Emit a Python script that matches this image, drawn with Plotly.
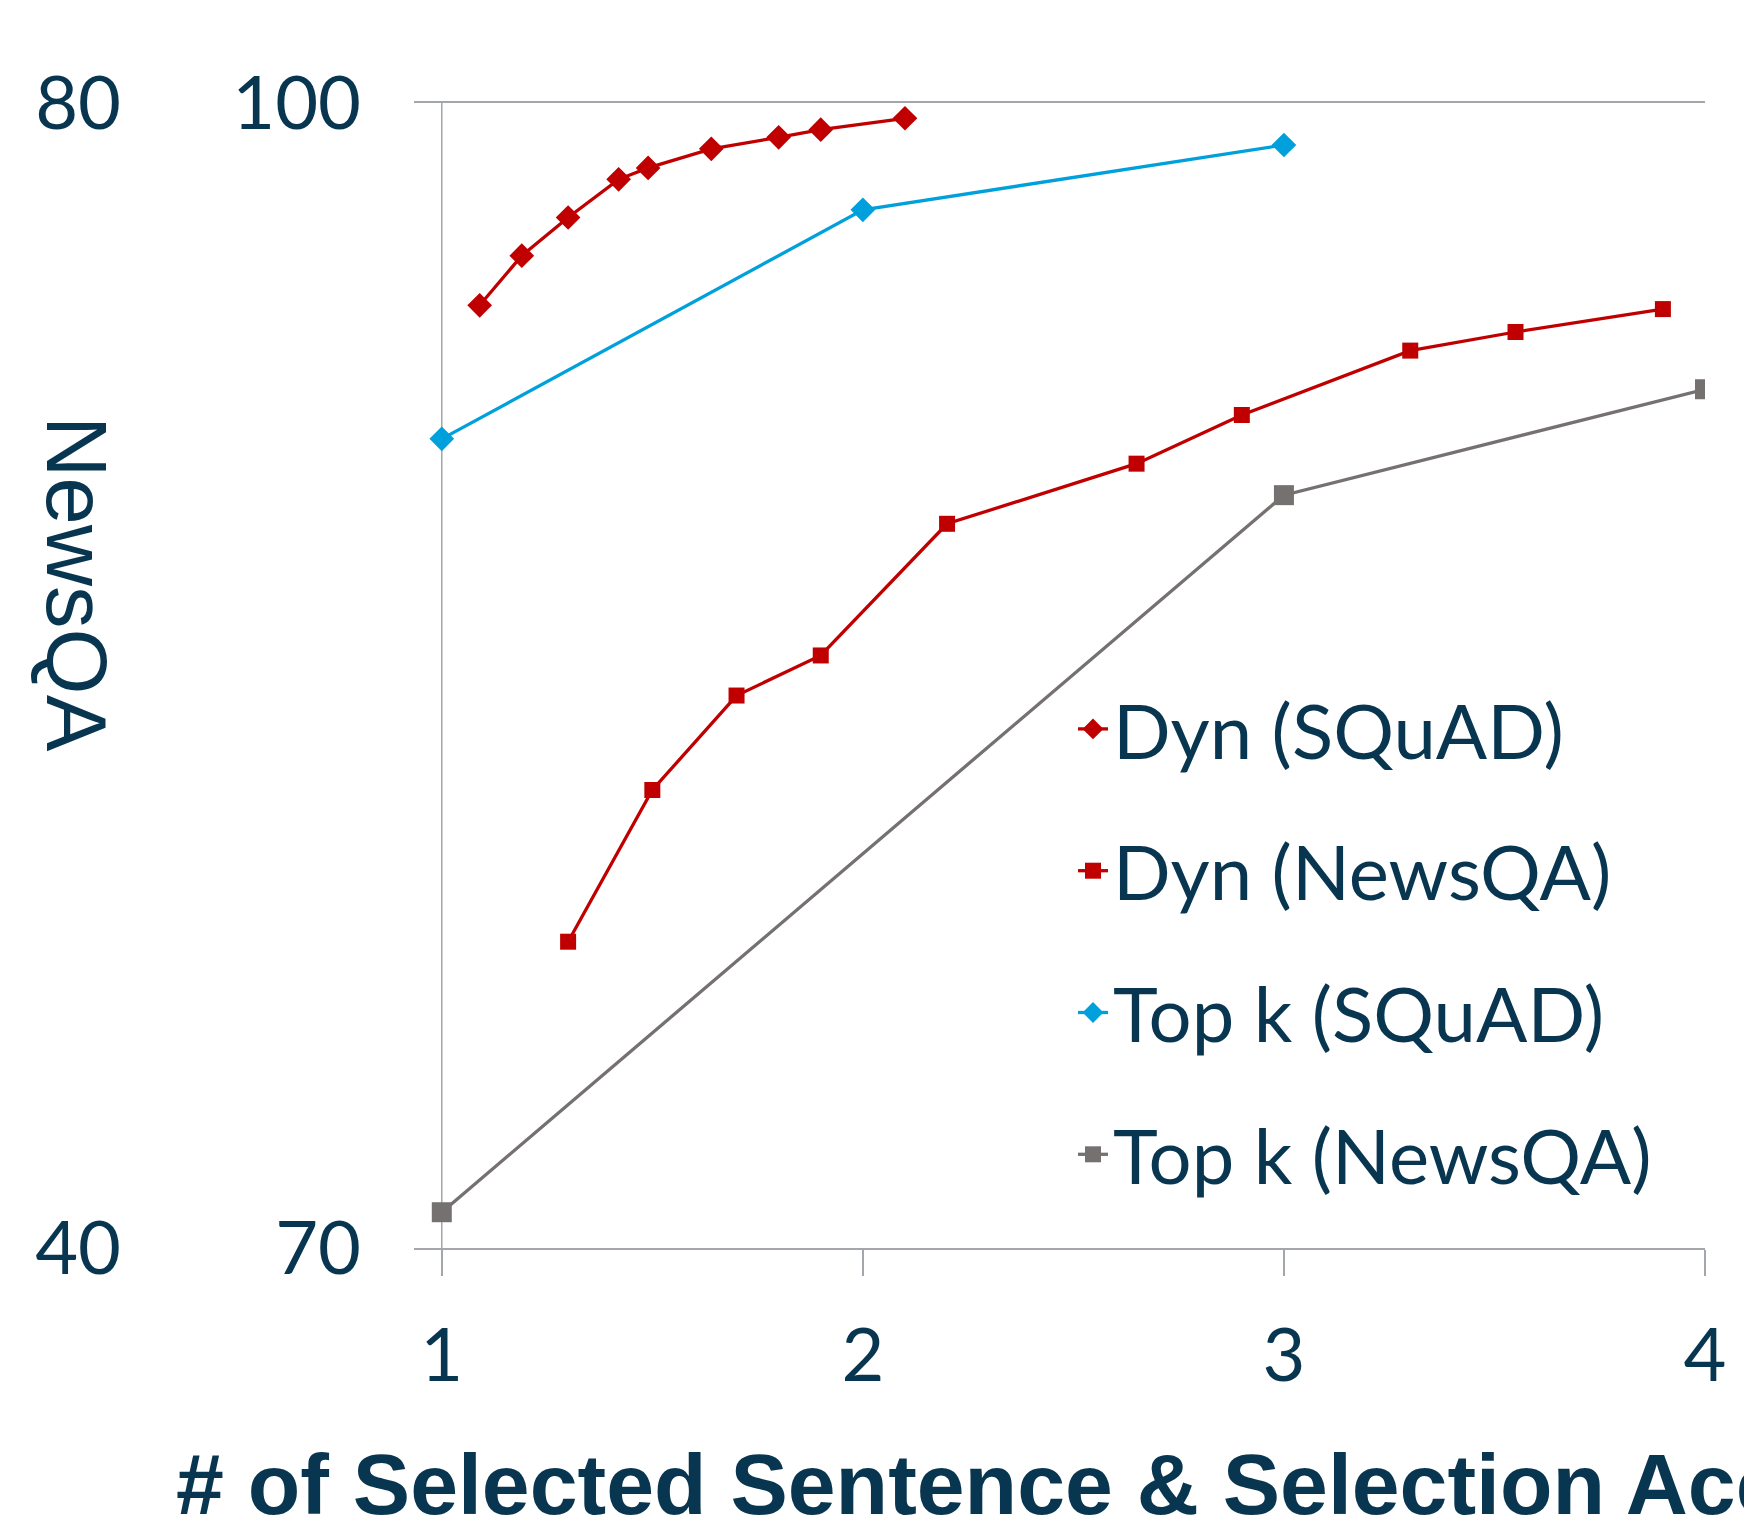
import plotly.graph_objects as go

# ---- data ----
dyn_squad_x = [1.09, 1.19, 1.30, 1.42, 1.49, 1.64, 1.80, 1.90, 2.10]
dyn_squad_y = [94.7, 96.0, 97.0, 98.0, 98.3, 98.8, 99.1, 99.3, 99.6]

topk_squad_x = [1, 2, 3]
topk_squad_y = [91.2, 97.2, 98.9]

dyn_news_x = [1.30, 1.50, 1.70, 1.90, 2.20, 2.65, 2.90, 3.30, 3.55, 3.90]
dyn_news_y = [50.7, 56.0, 59.3, 60.7, 65.3, 67.4, 69.1, 71.35, 72.0, 72.8]

topk_news_x = [1, 3, 4]
topk_news_y = [41.25, 66.3, 70.0]

x_ticks = [1, 2, 3, 4]
y1_ticks = [70, 100]
y2_ticks = [40, 80]

NAVY = "#08354F"
RED = "#C00000"
BLUE = "#00A0DC"
GRAY = "#767171"
AXIS = "#A3A7AB"

W, H = 1752, 1520
ML, MR, MT, MB = 20, 55, 95, 280
PW = W - ML - MR
PH = H - MT - MB

fig = go.Figure()

fig.add_trace(go.Scatter(x=dyn_squad_x, y=dyn_squad_y, name="Dyn (SQuAD)",
                         mode="lines+markers", legendgroup="a",
                         line=dict(color=RED, width=3.3),
                         marker=dict(symbol="diamond", size=19, color=RED)))
fig.add_trace(go.Scatter(x=dyn_news_x, y=dyn_news_y, name="Dyn (NewsQA)", yaxis="y2",
                         mode="lines+markers", legendgroup="b",
                         line=dict(color=RED, width=3.3),
                         marker=dict(symbol="square", size=16, color=RED)))
fig.add_trace(go.Scatter(x=topk_squad_x, y=topk_squad_y, name="Top k (SQuAD)",
                         mode="lines+markers", legendgroup="c",
                         line=dict(color=BLUE, width=3.3),
                         marker=dict(symbol="diamond", size=19, color=BLUE)))
fig.add_trace(go.Scatter(x=topk_news_x, y=topk_news_y, name="Top k (NewsQA)", yaxis="y2",
                         mode="lines+markers", legendgroup="d",
                         line=dict(color=GRAY, width=3.3),
                         marker=dict(symbol="square", size=20, color=GRAY)))

x0 = (406 - ML) / PW

fig.update_layout(
    width=W, height=H,
    margin=dict(l=ML, r=MR, t=MT, b=MB),
    paper_bgcolor="white", plot_bgcolor="white",
    font=dict(family="Lato", color=NAVY, size=74),
    showlegend=True,
    legend=dict(x=(1065 - ML) / PW, y=1 - (665 - MT) / PH, xanchor="left", yanchor="top",
                bgcolor="rgba(0,0,0,0)", font=dict(size=76, color=NAVY, family="Lato"),
                tracegroupgap=40, itemwidth=30),
    xaxis=dict(domain=[x0, 1], range=[0.934, 4], tickvals=x_ticks,
               showgrid=False, zeroline=False,
               showline=True, mirror=True, linecolor=AXIS, linewidth=1.5,
               ticks="outside", ticklen=26, tickcolor=AXIS, tickwidth=1.5,
               ticklabelstandoff=16,
               tickfont=dict(size=74, color=NAVY, family="Lato")),
    yaxis=dict(range=[70, 100], tickvals=y1_ticks, showgrid=False, zeroline=False,
               showline=False, ticks="", ticklabelstandoff=52,
               tickfont=dict(size=74, color=NAVY, family="Lato")),
    yaxis2=dict(range=[40, 80], tickvals=y2_ticks, overlaying="y", side="left",
                anchor="free", position=(113 - ML) / PW,
                showgrid=False, zeroline=False, showline=False, ticks="",
                tickfont=dict(size=74, color=NAVY, family="Lato")),
    shapes=[dict(type="line", xref="x", yref="paper", x0=1, x1=1, y0=0, y1=1,
                 line=dict(color=AXIS, width=1.5), layer="below")],
    annotations=[
        dict(text="NewsQA", xref="paper", yref="paper",
             x=(69 - ML) / PW, y=1 - (576 - MT) / PH, xanchor="center", yanchor="middle",
             textangle=90, showarrow=False,
             font=dict(family="Liberation Sans", size=85, color=NAVY)),
        dict(text="<b># of Selected Sentence &amp; Selection Accuracy</b>", xref="paper", yref="paper",
             x=(166 - ML) / PW, y=1 - (1476 - MT) / PH, xanchor="left", yanchor="middle",
             showarrow=False,
             font=dict(family="Liberation Sans", size=86, color=NAVY)),
    ],
)

fig.write_html("out.html")
